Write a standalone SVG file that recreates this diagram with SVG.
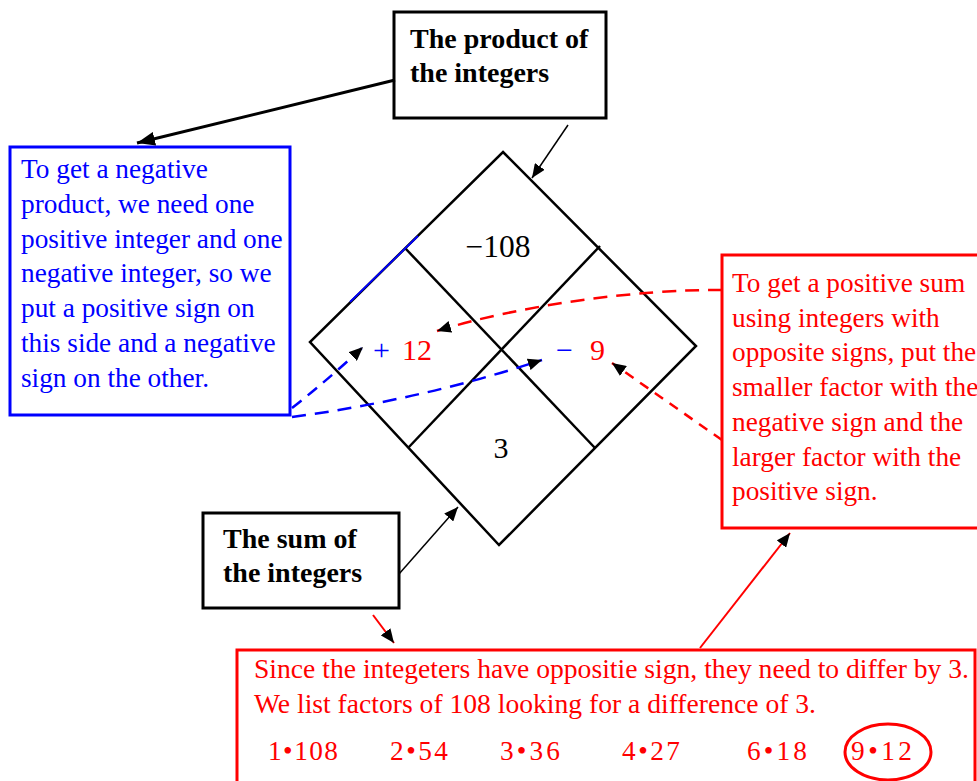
<svg xmlns="http://www.w3.org/2000/svg" width="977" height="781" viewBox="0 0 977 781">
<style>
.t{font-family:"Liberation Serif","Times New Roman",serif;font-size:27.3px}
.b{font-weight:bold;font-size:28px}
.box{fill:#fff;stroke-width:3}
.k{stroke:#000}
.blue{fill:#0000ff}
.red{fill:#ff0000}
.num{font-family:"Liberation Serif","Times New Roman",serif;font-size:30px}
.edge{fill:none;stroke:#000;stroke-width:2.5}
.conn{fill:none}
</style>
<defs>
<marker id="ah" markerUnits="userSpaceOnUse" markerWidth="14" markerHeight="12" refX="14" refY="6" orient="auto"><path d="M0,0 L14,6 L0,12 z" fill="#000"/></marker>
<marker id="ahb" markerUnits="userSpaceOnUse" markerWidth="18" markerHeight="14" refX="18" refY="7" orient="auto"><path d="M0,0 L18,7 L0,14 z" fill="#000"/></marker>
</defs>
<rect width="977" height="781" fill="#fff"/>

<g id="product-box">
<rect class="box k" x="394" y="12" width="212" height="106"/>
<text class="t b" x="410" y="48">The product of</text>
<text class="t b" x="410" y="82">the integers</text>
</g>

<g id="negative-product-note">
<rect class="box" stroke="#0000ff" x="10" y="147" width="280" height="268"/>
<g class="t blue">
<text x="21" y="178">To get a negative</text>
<text x="21" y="213">product, we need one</text>
<text x="21" y="248">positive integer and one</text>
<text x="21" y="282">negative integer, so we</text>
<text x="21" y="317">put a positive sign on</text>
<text x="21" y="352">this side and a negative</text>
<text x="21" y="387">sign on the other.</text>
</g>
</g>

<g id="diamond">
<polygon class="edge" points="503,152 696,346 499,545 310,342"/>
<line class="edge" x1="405" y1="248" x2="595" y2="448"/>
<line class="edge" x1="600" y1="246" x2="408" y2="448"/>
<line x1="350" y1="302" x2="418" y2="236" stroke="#0000ff" stroke-width="1.8"/>
<text class="num" x="498" y="257" text-anchor="middle" style="font-size:31.5px">−108</text>
<text class="num" y="360"><tspan class="blue" x="373">+</tspan><tspan class="red" x="402">12</tspan></text>
<text class="num" y="360"><tspan class="blue" x="556">−</tspan><tspan class="red" x="590">9</tspan></text>
<text class="num" x="501" y="458" text-anchor="middle">3</text>
</g>

<g id="positive-sum-note">
<rect class="box" stroke="#ff0000" x="722" y="255" width="280" height="273"/>
<g class="t red">
<text x="732" y="292">To get a positive sum</text>
<text x="732" y="327">using integers with</text>
<text x="732" y="361">opposite signs, put the</text>
<text x="732" y="396">smaller factor with the</text>
<text x="732" y="431">negative sign and the</text>
<text x="732" y="466">larger factor with the</text>
<text x="732" y="500">positive sign.</text>
</g>
</g>

<g id="sum-box">
<rect class="box k" x="203" y="513" width="196" height="95"/>
<text class="t b" x="223" y="548">The sum of</text>
<text class="t b" x="223" y="582">the integers</text>
</g>

<g id="factors-box">
<rect class="box" stroke="#ff0000" x="237" y="650" width="738" height="150"/>
<g class="t red">
<text x="254" y="678" textLength="715" lengthAdjust="spacingAndGlyphs">Since the integeters have oppositie sign, they need to differ by 3.</text>
<text x="254" y="713" textLength="562" lengthAdjust="spacingAndGlyphs">We list factors of 108 looking for a difference of 3.</text>
<text x="268" y="760" textLength="70">1•108</text>
<text x="390" y="760" textLength="58">2•54</text>
<text x="500" y="760" textLength="60">3•36</text>
<text x="622" y="760" textLength="58">4•27</text>
<text x="747" y="760" textLength="60">6•18</text>
<text x="851" y="760" textLength="61">9•12</text>
</g>
<ellipse cx="888" cy="752" rx="43" ry="28" fill="none" stroke="#ff0000" stroke-width="3"/>
</g>

<g id="connectors" class="conn">
<line x1="395" y1="80" x2="137" y2="143" stroke="#000" stroke-width="3" marker-end="url(#ahb)"/>
<line x1="568" y1="125" x2="532" y2="178" stroke="#000" stroke-width="1.5" marker-end="url(#ah)"/>
<line x1="399" y1="574" x2="458" y2="507" stroke="#000" stroke-width="1.5" marker-end="url(#ah)"/>
<line x1="373" y1="615" x2="394" y2="643" stroke="#ff0000" stroke-width="2" marker-end="url(#ah)"/>
<line x1="700" y1="648" x2="790" y2="533" stroke="#ff0000" stroke-width="2" marker-end="url(#ah)"/>
<path d="M722,290 C640,289 520,305 437,331" stroke="#ff0000" stroke-width="2.5" stroke-dasharray="14,9" fill="none" marker-end="url(#ah)"/>
<path d="M722,440 L612,363" stroke="#ff0000" stroke-width="2.5" stroke-dasharray="10,8" fill="none" marker-end="url(#ah)"/>
<path d="M292,408 Q330,378 363,347" stroke="#0000ff" stroke-width="2.5" stroke-dasharray="12,8" fill="none" marker-end="url(#ah)"/>
<path d="M292,417 Q420,400 542,360" stroke="#0000ff" stroke-width="2.5" stroke-dasharray="14,9" fill="none" marker-end="url(#ah)"/>
</g>
</svg>
